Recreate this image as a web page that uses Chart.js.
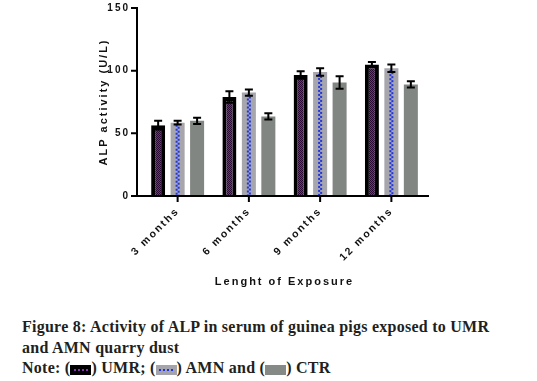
<!DOCTYPE html>
<html><head><meta charset="utf-8">
<script src="https://cdn.jsdelivr.net/npm/chart.js@4"></script>
<style>
html,body{margin:0;padding:0;background:#fff;}
#wrap{position:absolute;left:0;top:0;width:537px;height:300px;}
#cap{position:absolute;left:22px;top:317px;font-family:"Liberation Serif","Times New Roman",serif;font-weight:bold;font-size:16px;letter-spacing:0.25px;line-height:20.5px;color:#231f20;white-space:nowrap;}
.box{display:inline-block;width:21px;height:10px;vertical-align:-2px;}
.b1{background:repeating-linear-gradient(90deg,#8a35b0 0 2px,#000 2px 4px) center/14px 2px no-repeat,#000;}
.b2{background:repeating-linear-gradient(90deg,#2233dd 0 2px,transparent 2px 4px) center/14px 2px no-repeat,#a4a4ac;}
.b3{background:#858a86;}
</style></head><body>
<div id="wrap"><canvas id="c" width="537" height="300"></canvas></div>
<div id="cap">Figure 8: Activity of ALP in serum of guinea pigs exposed to UMR<br>and AMN quarry dust<br>Note: (<span class="box b1"></span>) UMR; (<span class="box b2"></span>) AMN and (<span class="box b3"></span>) CTR</div>
<script>
const categories = ['3 months', '6 months', '9 months', '12 months'];
const umrValues = [56.5, 79, 96.5, 105];
const umrErrors = [3.5, 4.5, 3, 2];
const amnValues = [58.5, 82.5, 99, 102];
const amnErrors = [1.5, 2.5, 3, 3];
const ctrValues = [60, 63.5, 90.5, 89];
const ctrErrors = [2.5, 2.5, 5, 2.5];
const yTicks = [0, 50, 100, 150];

function checker(c1, c2) {
  const p = document.createElement('canvas');
  p.width = 2; p.height = 2;
  const g = p.getContext('2d');
  g.fillStyle = c1; g.fillRect(0, 0, 2, 2);
  g.fillStyle = c2; g.fillRect(0, 0, 1, 1); g.fillRect(1, 1, 1, 1);
  return document.createElement('canvas').getContext('2d').createPattern(p, 'repeat');
}
const umrFill = checker('#7b2a9c', '#2a0a35');
const allErrors = [umrErrors, amnErrors, ctrErrors];

const decor = {
  id: 'decor',
  beforeLayout(chart) { chart.ctx.letterSpacing = '2px'; },
  beforeDraw(chart) { chart.ctx.letterSpacing = '2px'; },
  afterDatasetsDraw(chart) {
    const ctx = chart.ctx, ys = chart.scales.y, xs = chart.scales.x;
    ctx.save();
    chart.getDatasetMeta(1).data.forEach(bar => {
      ctx.strokeStyle = '#1f35e8'; ctx.lineWidth = 2; ctx.setLineDash([2, 2]);
      ctx.lineDashOffset = 0;
      ctx.beginPath(); ctx.moveTo(bar.x - 1, bar.y + 2); ctx.lineTo(bar.x - 1, bar.base); ctx.stroke();
      ctx.lineDashOffset = 2;
      ctx.beginPath(); ctx.moveTo(bar.x + 1, bar.y + 2); ctx.lineTo(bar.x + 1, bar.base); ctx.stroke();
    });
    ctx.setLineDash([]);
    chart.data.datasets.forEach((ds, i) => {
      chart.getDatasetMeta(i).data.forEach((bar, j) => {
        const v = ds.data[j], e = allErrors[i][j];
        const yt = ys.getPixelForValue(v + e), yb = ys.getPixelForValue(v - e);
        ctx.strokeStyle = '#000'; ctx.lineWidth = 2;
        ctx.beginPath();
        ctx.moveTo(bar.x, yt); ctx.lineTo(bar.x, yb);
        ctx.moveTo(bar.x - 4, yt); ctx.lineTo(bar.x + 4, yt);
        ctx.moveTo(bar.x - 4, yb); ctx.lineTo(bar.x + 4, yb);
        ctx.stroke();
      });
    });
    const x0 = chart.chartArea.left - 5;
    const y0 = ys.getPixelForValue(0);
    ctx.strokeStyle = '#000'; ctx.lineWidth = 2;
    ctx.beginPath();
    ctx.moveTo(x0, ys.getPixelForValue(150) - 1); ctx.lineTo(x0, y0 + 1);
    yTicks.forEach(t => { const p = ys.getPixelForValue(t); ctx.moveTo(x0 - 6, p); ctx.lineTo(x0, p); });
    ctx.moveTo(x0 - 1, y0); ctx.lineTo(chart.chartArea.right + 2, y0);
    categories.forEach((c, j) => { const p = xs.getPixelForValue(j); ctx.moveTo(p, y0); ctx.lineTo(p, y0 + 6); });
    ctx.stroke();
    ctx.restore();
  }
};

new Chart(document.getElementById('c'), {
  type: 'bar',
  data: {
    labels: categories,
    datasets: [
      { label: 'UMR', data: umrValues, backgroundColor: umrFill, borderColor: '#000', borderWidth: 4, borderSkipped: 'start' },
      { label: 'AMN', data: amnValues, backgroundColor: '#a6a6ac', borderWidth: 0 },
      { label: 'CTR', data: ctrValues, backgroundColor: '#818682', borderWidth: 0 }
    ]
  },
  options: {
    responsive: false,
    devicePixelRatio: 1,
    animation: false,
    categoryPercentage: 0.82,
    barPercentage: 0.72,
    layout: { padding: { left: 0, right: 110, top: 8, bottom: 0 } },
    plugins: { legend: { display: false }, tooltip: { enabled: false } },
    scales: {
      x: {
        grid: { display: false, drawTicks: false },
        border: { display: false },
        ticks: { color: '#111', font: { family: 'Liberation Sans', weight: 'bold', size: 10.5 }, minRotation: 45, maxRotation: 45, padding: 9 },
        title: { display: true, text: 'Lenght of Exposure', color: '#111', font: { family: 'Liberation Sans', weight: 'bold', size: 11 }, padding: { top: 0, bottom: 11 } },
        afterFit(s) { s.height = 104; s.paddingLeft = 0; s.paddingRight = 0; }
      },
      y: {
        min: 0, max: 150,
        grid: { display: false, drawTicks: false },
        border: { display: false },
        ticks: { stepSize: 50, color: '#111', font: { family: 'Liberation Sans', weight: 'bold', size: 10 }, padding: 12 },
        title: { display: true, text: 'ALP activity (U/L)', color: '#111', font: { family: 'Liberation Sans', weight: 'bold', size: 11 }, padding: { top: 97, bottom: 0 } },
        afterFit(s) { s.width = 142; s.paddingTop = 0; s.paddingBottom = 0; }
      }
    }
  },
  plugins: [decor]
});
</script>
</body></html>
